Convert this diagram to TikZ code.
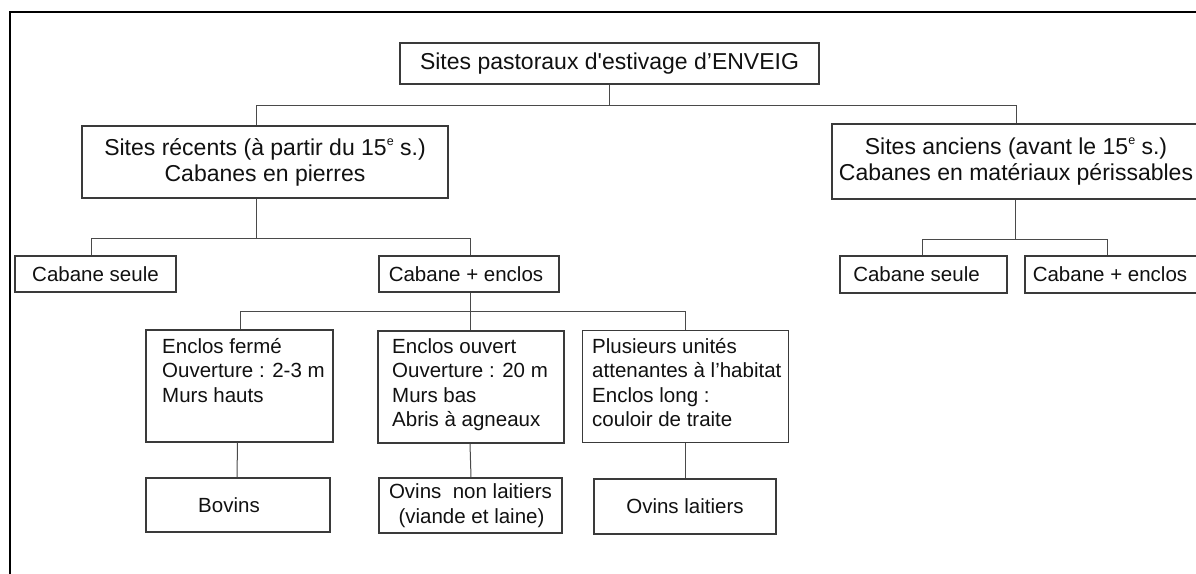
\documentclass[tikz,border=0pt]{standalone}
\usepackage{fontspec}
\setmainfont{Liberation Sans}[Ligatures=TeXOff]
\definecolor{boxc}{HTML}{3A3A3A}
\definecolor{linec}{HTML}{4A4A4A}
\definecolor{txtc}{HTML}{111111}
\newcommand{\supe}{\raisebox{0.42em}{\fontsize{12.5}{12.5}\selectfont e}}
\tikzset{
  bx/.style={draw=boxc, line width=1.3pt, inner sep=0pt, text=txtc},
  bigt/.style={font=\fontsize{23}{26}\selectfont},
  medt/.style={font=\fontsize{20.5}{24.5}\selectfont},
  lnk/.style={draw=linec, line width=1pt},
  framel/.style={draw=black, line width=2.6pt},
  intext/.style={medt, anchor=north west, inner sep=0pt, align=left, text=txtc}
}
\begin{document}
\begin{tikzpicture}[x=1pt,y=-1pt]
\useasboundingbox (0,0) rectangle (1196,573);
\clip (0,0) rectangle (1196,573);
\fill[white] (0,0) rectangle (1196,573);
% outer frame
\draw[framel] (10,620) -- (10,12) -- (1230,12);
% level 0
\node[bx, bigt, minimum width=419pt, minimum height=41pt] (top) at (609.5,63.5) {Sites pastoraux d'estivage d’ENVEIG};
% level 1
\node[bx, bigt, minimum width=366pt, minimum height=72pt, align=center] (rec) at (265,162)
  {Sites récents (à partir du 15\supe{} s.)\\Cabanes en pierres};
\node[bx, bigt, minimum width=368pt, minimum height=75pt, align=center] (anc) at (1016,161.5)
  {Sites anciens (avant le 15\supe{} s.)\\Cabanes en matériaux périssables};
% level 2
\node[bx, medt, minimum width=161pt, minimum height=36pt] (cs1) at (95.5,274) {Cabane seule};
\node[bx, medt, minimum width=180pt, minimum height=36pt] (ce1) at (469,274) {Cabane + enclos\hspace*{6pt}};
\node[bx, medt, minimum width=167pt, minimum height=37pt] (cs2) at (923.5,274.5) {Cabane seule\hspace*{14pt}};
\node[bx, medt, minimum width=175pt, minimum height=37pt] (ce2) at (1112.5,274.5) {Cabane + enclos\hspace*{5pt}};
% level 3
\node[bx, minimum width=187pt, minimum height=112pt] (A) at (239.5,386) {};
\node[bx, minimum width=186pt, minimum height=112pt] (B) at (471,387) {};
\node[bx, minimum width=206pt, minimum height=112pt] (C) at (685.5,386.5) {};
\node[intext] (At) at (162,336) {\strut Enclos fermé\\Ouverture : 2-3 m\\Murs hauts};
\node[intext] (Bt) at (392,336) {\strut Enclos ouvert\\Ouverture : 20 m\\Murs bas\\Abris à agneaux};
\node[intext] (Ct) at (592,336) {\strut Plusieurs unités\\attenantes à l’habitat\\Enclos long :\\couloir de traite};
% level 4
\node[bx, medt, minimum width=184pt, minimum height=54pt] (D) at (238,505) {Bovins\hspace*{18pt}};
\node[bx, medt, minimum width=183pt, minimum height=55pt, align=center] (E) at (470.5,505.5)
  {Ovins\ \ non laitiers\\\hspace*{2pt}(viande et laine)};
\node[bx, medt, minimum width=182pt, minimum height=55pt] (F) at (685,506.5) {Ovins laitiers};
% connectors
\draw[lnk] (top.south) -- ++(0,21) coordinate (j1);
\draw[lnk] ([xshift=-9pt]rec.north) |- (j1) -| (anc.north);
\draw[lnk] ([xshift=-9pt]rec.south) -- ++(0,40) coordinate (j2);
\draw[lnk] ([xshift=-4pt]cs1.north) |- (j2) -| ([xshift=1pt]ce1.north);
\draw[lnk] ([xshift=-1pt]anc.south) -- ++(0,40) coordinate (j3);
\draw[lnk] ([xshift=-1.5pt]cs2.north) |- (j3) -| ([xshift=-5.5pt]ce2.north);
\draw[lnk] ([xshift=1pt]ce1.south) -- ++(0,19) coordinate (j4);
\draw[lnk] ([xshift=0.5pt]A.north) |- (j4) -| (C.north);
\draw[lnk] (j4) -- (j4 |- B.north);
\draw[lnk] ([xshift=-2pt]A.south) -- ([xshift=-1pt]D.north);
\draw[lnk] ([xshift=-1pt]B.south) -- (B.south |- E.north);
\draw[lnk] (C.south) -- (C.south |- F.north);
\end{tikzpicture}
\end{document}
